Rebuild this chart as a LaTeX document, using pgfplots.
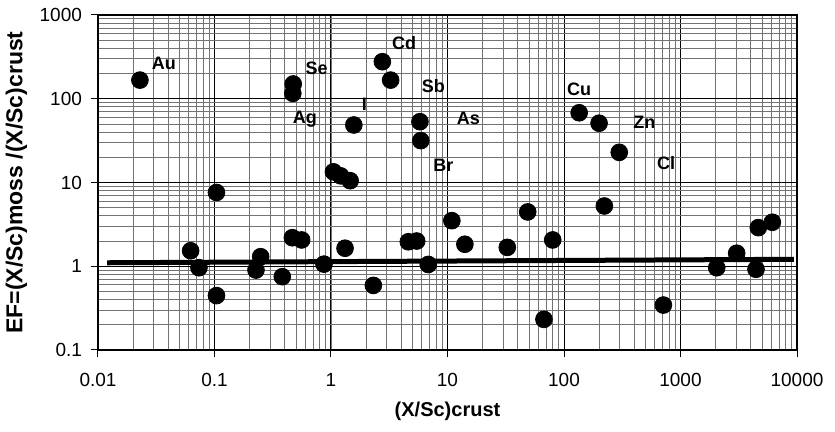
\documentclass[border=0pt]{standalone}
\usepackage{fontspec}
\setmainfont{Liberation Sans}
\usepackage{pgfplots}
\pgfplotsset{compat=1.18}

% enrichment factors, moss vs crust
\pgfplotstableread{
x       y
0.0229  167
0.474   150
0.470   116
2.76    277
3.25    167
1.57    48.6
1.05    13.4
1.21    12.0
1.46    10.5
0.104   7.6
5.80    53.2
5.90    31.6
135     68
200     51
298     22.9
222     5.24
48.8    4.45
10.9    3.5
0.0624  1.53
0.0736  0.96
0.104   0.446
0.249   1.30
0.227   0.90
0.382   0.75
0.466   2.19
0.560   2.06
0.871   1.06
1.32    1.64
2.31    0.59
4.61    1.96
5.44    2.00
14.1    1.83
6.84    1.05
32.6    1.68
80      2.06
67.3    0.232
713     0.344
2046    0.96
3036    1.43
4447    0.92
4655    2.89
6138    3.35
}\efdata

\begin{document}
\begin{tikzpicture}
\begin{axis}[
    xmode=log, ymode=log,
    scale only axis, width=349.5pt, height=167.5pt,
    xmin=0.01, xmax=10000, ymin=0.1, ymax=1000,
    xtick={0.01,0.1,1,10,100,1000,10000},
    xticklabels={0.01,0.1,1,10,100,1000,10000},
    ytick={0.1,1,10,100,1000},
    yticklabels={0.1,1,10,100,1000},
    tick pos=left, tick align=outside,
    major tick length=3.5pt, minor tick length=0pt,
    tick style={black, line width=0.5pt},
    grid=both,
    major grid style={black, line width=0.5pt},
    minor grid style={black!55, line width=0.4pt},
    axis line style={black, line width=0.6pt},
    tick label style={font=\fontsize{9.5}{11}\selectfont},
    xticklabel style={yshift=-4.8pt},
    yticklabel style={xshift=-1pt},
    xlabel={\bfseries (X/Sc)crust},
    ylabel={\bfseries EF=(X/Sc)moss /(X/Sc)crust},
    xlabel style={at={(axis description cs:0.5,-0.182)}, anchor=center, font=\fontsize{10}{12}\selectfont},
    ylabel style={at={(axis description cs:-0.1166,0.5)}, anchor=center, font=\fontsize{11.5}{13}\selectfont},
    clip=false,
]
\addplot[only marks, mark=*, mark size=4.2pt, black] table {\efdata};
% fitted level line
\addplot[black, line width=2.5pt] coordinates {(0.012,1.10) (9400,1.21)};

\begin{scope}[every node/.style={font=\bfseries\fontsize{9}{10}\selectfont}]
\node at (axis cs:0.0368,267) {Au};
\node at (axis cs:0.753,233) {Se};
\node at (axis cs:0.598,57.3) {Ag};
\node at (axis cs:1.93,86.5) {I};
\node at (axis cs:4.24,463) {Cd};
\node at (axis cs:7.55,142) {Sb};
\node at (axis cs:15.1,58.4) {As};
\node at (axis cs:9.2,16.2) {Br};
\node at (axis cs:135,130) {Cu};
\node at (axis cs:489,51.8) {Zn};
\node at (axis cs:751,16.9) {Cl};
\end{scope}

\coordinate (sw) at (rel axis cs:0,0);
\coordinate (ne) at (rel axis cs:1,1);
\end{axis}
\pgfresetboundingbox
\path ([shift={(-49pt,-41pt)}]sw) rectangle ([shift={(19pt,7.5pt)}]ne);
\end{tikzpicture}
\end{document}
